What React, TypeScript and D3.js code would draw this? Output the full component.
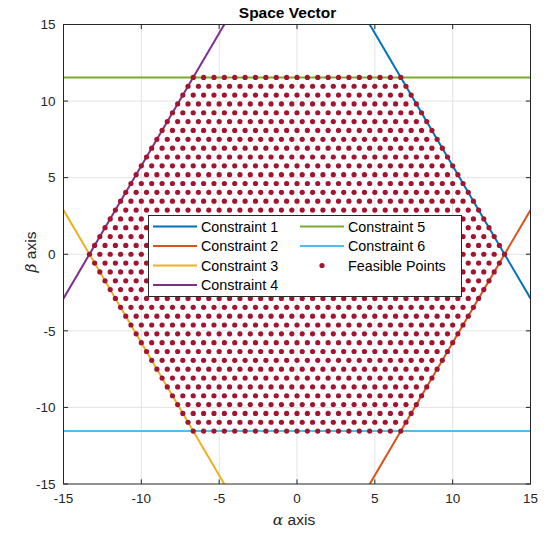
import React from "react";
import * as d3 from "d3";

const W = 547;
const H = 533;
const xTicks = [-15, -10, -5, 0, 5, 10, 15];
const yTicks = [-15, -10, -5, 0, 5, 10, 15];
const Vdc = 20;
const phaseLevels = [0, 1, 2, 3, 4, 5, 6, 7, 8, 9, 10, 11, 12, 13, 14, 15, 16, 17, 18, 19, 20];
const constraintNames = ["Constraint 1", "Constraint 2", "Constraint 3", "Constraint 4", "Constraint 5", "Constraint 6"];
const constraintSlopes = [-Math.sqrt(3), Math.sqrt(3), -Math.sqrt(3), Math.sqrt(3), 0, 0];
const constraintIntercepts = [
  (2 * Vdc) / Math.sqrt(3),
  -(2 * Vdc) / Math.sqrt(3),
  -(2 * Vdc) / Math.sqrt(3),
  (2 * Vdc) / Math.sqrt(3),
  Vdc / Math.sqrt(3),
  -Vdc / Math.sqrt(3),
];
const constraintColors = ["#0072BD", "#D95319", "#EDB120", "#7E2F8E", "#77AC30", "#4DBEEE"];
const pointColor = "#A2142F";

// feasible space-vector points from all switching-level combinations
function feasiblePoints(): [number, number][] {
  const seen = new Map<string, [number, number]>();
  for (const a of phaseLevels)
    for (const b of phaseLevels)
      for (const c of phaseLevels) {
        const x = (2 / 3) * (a - 0.5 * b - 0.5 * c);
        const y = (2 / 3) * (Math.sqrt(3) / 2) * (b - c);
        const key = x.toFixed(4) + "," + y.toFixed(4);
        if (!seen.has(key)) seen.set(key, [x, y]);
      }
  return Array.from(seen.values());
}

const points = feasiblePoints();

export default function App() {
  const left = 63.5, right = 530.5, top = 24.5, bottom = 484;
  const x = d3.scaleLinear().domain([-15, 15]).range([left, right]);
  const y = d3.scaleLinear().domain([-15, 15]).range([bottom, top]);
  const axisColor = "#262626";
  const font = "'Liberation Sans', Arial, sans-serif";
  const tick = 4.6;

  const lineGen = d3.line<[number, number]>().x((d) => x(d[0])).y((d) => y(d[1]));
  const linePts = (i: number): [number, number][] =>
    [-15, 15].map((xv) => [xv, constraintSlopes[i] * xv + constraintIntercepts[i]] as [number, number]);

  const legX = 148.5, legY = 215.5, legW = 313, legH = 81;
  const rowY = [226.5, 246, 265.5, 285];
  const colX = [153, 300];

  return (
    <svg width={W} height={H} style={{ position: "absolute", left: 0, top: 0, background: "#fff" }} fontFamily={font}>
      <rect x={0} y={0} width={W} height={H} fill="#fff" />
      <defs>
        <clipPath id="plotclip">
          <rect x={left} y={top} width={right - left} height={bottom - top} />
        </clipPath>
      </defs>
      <rect x={left} y={top} width={right - left} height={bottom - top} fill="#fff" />
      {/* grid */}
      {xTicks.slice(1, -1).map((t) => (
        <line key={"gx" + t} x1={x(t)} x2={x(t)} y1={top} y2={bottom} stroke="#E3E3E3" strokeWidth={1} />
      ))}
      {yTicks.slice(1, -1).map((t) => (
        <line key={"gy" + t} x1={left} x2={right} y1={y(t)} y2={y(t)} stroke="#E3E3E3" strokeWidth={1} />
      ))}
      <g clipPath="url(#plotclip)">
        {constraintNames.map((n, i) => (
          <path key={n} d={lineGen(linePts(i)) || ""} stroke={constraintColors[i]} strokeWidth={2} fill="none" />
        ))}
        {points.map((p, i) => (
          <circle key={i} cx={x(p[0])} cy={y(p[1])} r={2.6} fill={pointColor} />
        ))}
      </g>
      {/* axes box */}
      <rect x={left} y={top} width={right - left} height={bottom - top} fill="none" stroke={axisColor} strokeWidth={1} />
      {xTicks.map((t) => (
        <g key={"tx" + t}>
          <line x1={x(t)} x2={x(t)} y1={bottom} y2={bottom - tick} stroke={axisColor} />
          <line x1={x(t)} x2={x(t)} y1={top} y2={top + tick} stroke={axisColor} />
          <text x={x(t)} y={bottom + 18.5} textAnchor="middle" fontSize={13.5} fill={axisColor}>
            {t}
          </text>
        </g>
      ))}
      {yTicks.map((t) => (
        <g key={"ty" + t}>
          <line x1={left} x2={left + tick} y1={y(t)} y2={y(t)} stroke={axisColor} />
          <line x1={right} x2={right - tick} y1={y(t)} y2={y(t)} stroke={axisColor} />
          <text x={left - 8} y={y(t) + 4.8} textAnchor="end" fontSize={13.5} fill={axisColor}>
            {t}
          </text>
        </g>
      ))}
      <text x={287.5} y={17.5} textAnchor="middle" fontSize={15.5} fontWeight="bold" fill="#000">
        Space Vector
      </text>
      <text x={294} y={524.5} textAnchor="middle" fontSize={15.5} fill={axisColor}>
        <tspan fontStyle="italic" fontFamily="'DejaVu Serif', serif">α</tspan> axis
      </text>
      <text transform={`translate(36,252) rotate(-90)`} textAnchor="middle" fontSize={15.5} fill={axisColor}>
        <tspan fontStyle="italic" fontFamily="'DejaVu Serif', serif">β</tspan> axis
      </text>
      {/* legend */}
      <rect x={legX} y={legY} width={legW} height={legH} fill="#fff" stroke={axisColor} strokeWidth={1} />
      {constraintNames.map((n, i) => {
        const col = i < 4 ? 0 : 1;
        const row = i < 4 ? i : i - 4;
        return (
          <g key={"leg" + n}>
            <line x1={colX[col]} x2={colX[col] + 44} y1={rowY[row]} y2={rowY[row]} stroke={constraintColors[i]} strokeWidth={2} />
            <text x={colX[col] + 48} y={rowY[row] + 5} fontSize={14.3} fill="#000">
              {n}
            </text>
          </g>
        );
      })}
      <circle cx={colX[1] + 22} cy={rowY[2]} r={2.6} fill={pointColor} />
      <text x={colX[1] + 48} y={rowY[2] + 5} fontSize={14.3} fill="#000">
        Feasible Points
      </text>
    </svg>
  );
}
